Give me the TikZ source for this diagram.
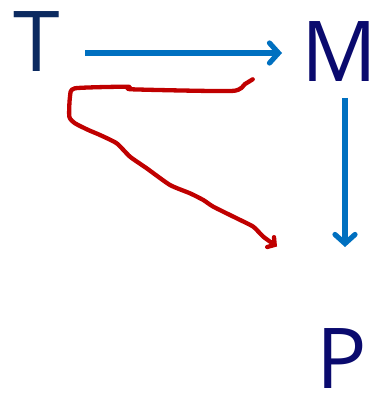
\documentclass[tikz,border=0pt]{standalone}
\usepackage{fontspec}
\setmainfont{Open Sans}
\usetikzlibrary{arrows.meta}
\definecolor{navyT}{HTML}{0B2A60}
\definecolor{navyM}{HTML}{0A0A6E}
\definecolor{arrowblue}{HTML}{0070C0}
\definecolor{penred}{HTML}{C00000}
\tikzset{
  letter/.style={inner sep=0pt, outer sep=0pt, text depth=0pt,
    font=\fontsize{84}{84}\selectfont},
  bluearrow/.style={draw=arrowblue, line width=5.2pt,
    -{Straight Barb[length=9pt,width=20pt,line cap=round]}},
  penstroke/.style={draw=penred, line width=4.3pt, line cap=round, line join=round,
    -{Straight Barb[length=5pt,width=12pt,line cap=round]}}
}
\begin{document}
\begin{tikzpicture}[x=1pt,y=-1pt]
  \useasboundingbox (0,0) rectangle (373,393);
  % letters
  \node[letter, text=navyT, anchor=base] (T) at (37,72) {T};
  \node[letter, text=navyM, anchor=base] (M) at (339,82) {M};
  \node[letter, text=navyM, anchor=base] (P) at (342,388) {P};
  % straight connectors
  \coordinate (tm0) at (87,53);
  \coordinate (tm1) at (282,53);
  \coordinate (mp0) at (345,98);
  \coordinate (mp1) at (345,247);
  \draw[bluearrow] (T.east |- tm0) ++(25,0) -- (tm1);
  \draw[bluearrow] (M.south -| mp0) ++(0,16) -- (mp1);
  % hand-drawn stroke
  \coordinate (r0) at (252.7,79.3);
  \coordinate (r1) at (277,246.5);
  \draw[penstroke] plot[smooth, tension=0.35] coordinates {
    (r0) (245,84) (231.7,91) (131.7,89.3) (128.3,86.7) (75,88.3)
    (70,96.7) (69.3,116.7) (75,123.3) (88.3,130) (100,135) (116.7,143.3)
    (130,156.7) (146.7,168.3) (170,185) (190,193.3) (203.3,200)
    (213.3,206.7) (236.7,218.3) (253.3,226.7) (263.3,236.7) (r1)};
\end{tikzpicture}
\end{document}
